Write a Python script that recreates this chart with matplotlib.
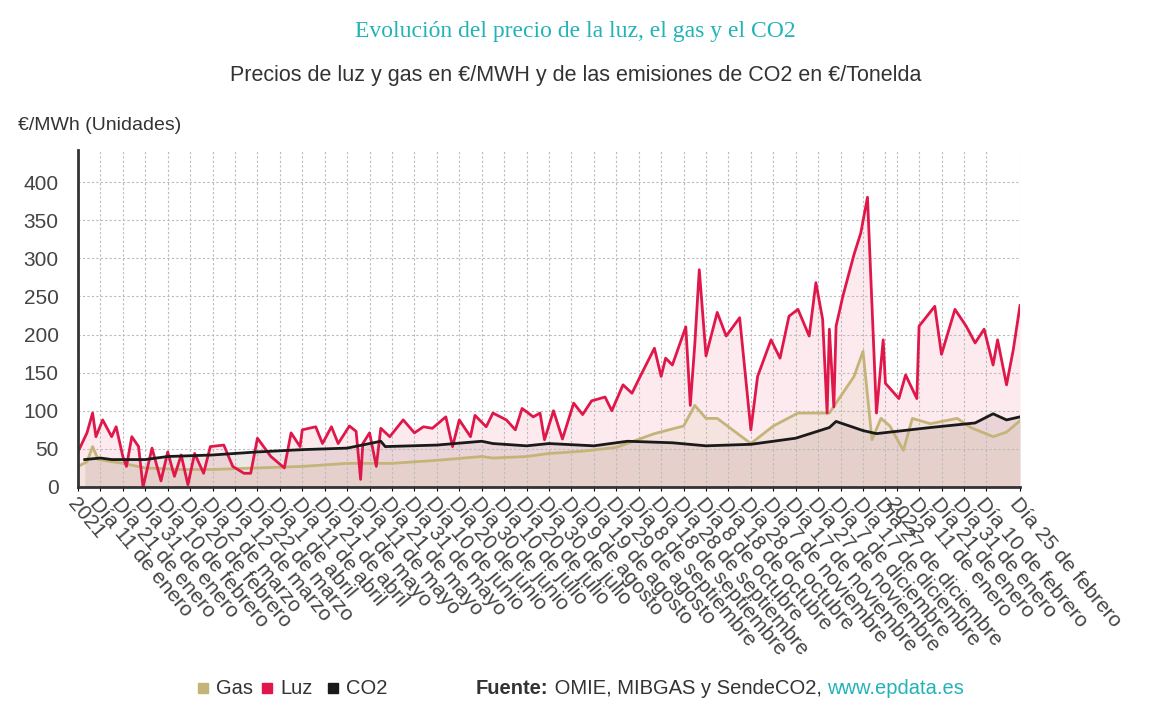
import numpy as np
import matplotlib.pyplot as plt
from matplotlib.patches import Rectangle

plt.rcParams['font.family'] = ['Liberation Sans', 'DejaVu Sans']

# days since 1 Jan 2021
luz_days = [0, 4, 6.5, 8, 11, 15, 17, 20, 21.6, 24, 27, 29, 33, 37, 40, 43, 46, 49, 52, 56, 59, 65, 69,
            74, 77, 80, 86, 92, 95, 99, 100, 106, 109, 113, 116, 121, 124, 126, 127, 130, 133, 135, 139,
            145, 150, 154, 158, 164, 167, 170, 175, 177, 182, 185, 191, 195, 198, 203, 206, 208, 212,
            216, 221, 225, 229, 235, 238, 243, 247, 251, 257, 260, 262, 265, 271, 273, 275, 277, 280,
            285, 289, 295, 300, 303, 309, 313, 317, 321, 326, 329, 332, 334, 335, 337, 338, 341, 346,
            349, 352, 356, 359, 360, 366, 369, 374, 375, 382, 385, 391, 396, 400, 404, 408, 410, 414,
            417, 420]
luz = [46, 71, 97, 66, 88, 66, 79, 40, 27, 66, 53, 0, 51, 8, 46, 14, 42, 3, 44, 18, 53, 55, 27,
       18, 18, 64, 40, 25, 71, 53, 75, 79, 57, 79, 57, 80, 73, 10, 57, 71, 27, 77, 66,
       88, 71, 79, 77, 92, 53, 88, 66, 94, 79, 97, 88, 75, 103, 92, 97, 62, 100,
       63, 110, 95, 113, 118, 100, 134, 123, 147, 182, 145, 169, 160, 210, 107, 187, 285, 172,
       229, 198, 222, 75, 145, 193, 169, 224, 233, 198, 268, 220, 97, 207, 105, 211, 250, 305,
       333, 380, 97, 193, 136, 116, 147, 116, 211, 237, 174, 233, 211, 189, 207, 160, 193, 134,
       180, 238]

gas_days = [0, 4, 6.5, 9, 20, 30, 45, 60, 80, 100, 120, 140, 160, 180, 185, 200, 210, 225, 240,
            257, 270, 275, 280, 285, 300, 310, 321, 335, 346, 350, 352, 354, 358, 362, 368, 372,
            380, 392, 398, 408, 414, 420]
gas = [27, 33, 53, 36, 31, 25, 23, 23, 25, 27, 31, 31, 35, 40, 38, 40, 44, 47, 52,
       70, 80, 107, 90, 90, 57, 80, 97, 97, 145, 178, 120, 62, 90, 80, 48, 90,
       83, 90, 78, 66, 72, 87]

co2_days = [3, 10, 15, 30, 40, 60, 80, 100, 120, 135, 137, 160, 180, 185, 200, 210, 230, 245, 265,
            280, 300, 320, 335, 338, 350, 356, 380, 400, 408, 414, 420]
co2 = [36, 38, 36, 36, 40, 42, 46, 49, 51, 60, 53, 55, 60, 57, 54, 57, 54, 60, 58,
       54, 56, 64, 78, 86, 74, 70, 78, 84, 96, 88, 92]

meses = ["enero", "febrero", "marzo", "abril", "mayo", "junio", "julio", "agosto",
         "septiembre", "octubre", "noviembre", "diciembre"]
tick_days = list(range(0, 361, 10)) + [365, 375, 385, 395, 405, 420]


def day_label(d):
    if d == 0:
        return "2021"
    if d == 365:
        return "2022"
    dt = np.datetime64('2021-01-01') + np.timedelta64(d, 'D')
    m = int(str(dt)[5:7])
    dd = int(str(dt)[8:10])
    return f"Día {dd} de {meses[m - 1]}"


tick_labels = [day_label(d) for d in tick_days]

c_luz, c_gas, c_co2 = '#e0174a', '#c4b47a', '#1a1a1a'

fig = plt.figure(figsize=(11.51, 7.27), dpi=100)
ax = fig.add_axes([78 / 1151, 1 - 487 / 727, (1020 - 78) / 1151, (487 - 150) / 727])

ax.fill_between(luz_days, luz, color=c_luz, alpha=0.09, lw=0)
ax.fill_between(co2_days, co2, color='#6b3a3a', alpha=0.12, lw=0)
ax.fill_between(gas_days, gas, color=c_gas, alpha=0.12, lw=0)
ax.plot(gas_days, gas, color=c_gas, lw=2)
ax.plot(luz_days, luz, color=c_luz, lw=2)
ax.plot(co2_days, co2, color=c_co2, lw=2)

ax.set_xlim(0, 420)
ax.set_ylim(0, 442)
ax.set_yticks(range(0, 401, 50))
ax.set_xticks(tick_days)
ax.set_xticklabels(tick_labels, rotation=-50, ha='left', va='top',
                   rotation_mode='anchor', fontsize=15, color='#444444')
ax.tick_params(axis='y', labelsize=15, labelcolor='#444444', length=0, pad=14)
ax.tick_params(axis='x', length=3, pad=2)
ax.grid(True, color='#bbbbbb', linestyle=(0, (2, 2)), lw=0.8)
for s in ['top', 'right']:
    ax.spines[s].set_visible(False)
for s in ['left', 'bottom']:
    ax.spines[s].set_linestyle((0, (2, 1)))
    ax.spines[s].set_linewidth(2)
    ax.spines[s].set_color('#333333')

fig.text(0.5, 1 - 32 / 727, "Evolución del precio de la luz, el gas y el CO2", ha='center', va='center',
         fontsize=17, color='#22b3b8', family='Liberation Serif')
fig.text(0.5, 1 - 75 / 727, "Precios de luz y gas en €/MWH y de las emisiones de CO2 en €/Tonelda",
         ha='center', va='center', fontsize=15.5, color='#333333')
fig.text(18 / 1151, 1 - 125 / 727, "€/MWh (Unidades)", ha='left', va='center', fontsize=14, color='#333333')

# legend / source line
ly = 1 - 688 / 727
for x0, col, lab in [(198, c_gas, "Gas"), (262, c_luz, "Luz"), (328, c_co2, "CO2")]:
    fig.patches.append(Rectangle((x0 / 1151, ly - 5 / 727), 10 / 1151, 10 / 727,
                                 transform=fig.transFigure, color=col))
    fig.text((x0 + 18) / 1151, ly, lab, ha='left', va='center', fontsize=14.5, color='#333333')
t1 = fig.text(476 / 1151, ly, "Fuente:", ha='left', va='center', fontsize=14.5, color='#333333', weight='bold')
t2 = fig.text(0, 0, " OMIE, MIBGAS y SendeCO2, ", ha='left', va='center', fontsize=14.5, color='#333333')
t3 = fig.text(0, 0, "www.epdata.es", ha='left', va='center', fontsize=14.5, color='#22b3b8')
fig.canvas.draw()
r = fig.canvas.get_renderer()
bb = t1.get_window_extent(r)
t2.set_position((bb.x1 / fig.bbox.width, ly))
bb = t2.get_window_extent(r)
t3.set_position((bb.x1 / fig.bbox.width, ly))

fig.savefig('out.png', dpi=100)
